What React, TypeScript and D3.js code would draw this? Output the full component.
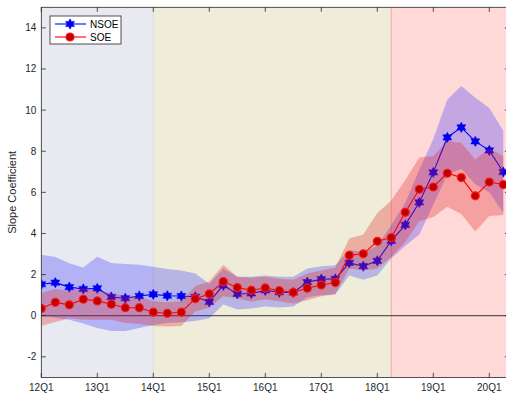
import React from 'react';
import * as d3 from 'd3';

const quarters = [
  "12Q1","12Q2","12Q3","12Q4","13Q1","13Q2","13Q3","13Q4",
  "14Q1","14Q2","14Q3","14Q4","15Q1","15Q2","15Q3","15Q4",
  "16Q1","16Q2","16Q3","16Q4","17Q1","17Q2","17Q3","17Q4",
  "18Q1","18Q2","18Q3","18Q4","19Q1","19Q2","19Q3","19Q4",
  "20Q1","20Q2",
];

const nsoe = [1.53,1.61,1.39,1.30,1.33,0.91,0.85,0.96,1.04,0.97,0.96,0.92,0.67,1.48,1.06,1.08,
  1.23,1.14,1.13,1.63,1.78,1.79,2.57,2.41,2.67,3.64,4.42,5.51,6.97,8.67,9.16,8.48,8.04,6.99];
const nsoeLo = [0.0,-0.1,-0.2,-0.38,-0.6,-0.74,-0.74,-0.6,-0.45,-0.36,-0.32,-0.26,-0.12,0.55,0.3,0.35,
  0.45,0.4,0.45,0.9,1.0,1.05,1.95,1.75,1.95,2.8,3.4,3.95,5.4,6.85,7.15,6.4,6.0,5.0];
const nsoeHi = [2.96,2.85,2.55,2.35,2.87,2.56,2.52,2.48,2.38,2.27,2.2,2.05,1.55,2.3,1.9,1.9,
  1.95,1.9,1.9,2.3,2.4,2.45,3.2,3.1,3.4,4.4,5.5,7.1,8.6,10.5,11.17,10.6,10.1,9.0];

const soe = [0.35,0.65,0.53,0.80,0.72,0.56,0.39,0.39,0.17,0.12,0.17,0.83,1.06,1.66,1.37,1.24,
  1.35,1.22,1.14,1.34,1.49,1.61,2.94,3.01,3.62,3.80,5.03,6.15,6.26,6.93,6.72,5.83,6.50,6.38];
const soeLo = [-0.5,-0.3,-0.12,-0.2,-0.2,-0.2,-0.35,-0.4,-0.5,-0.52,-0.5,0.2,0.4,0.95,0.85,0.68,
  0.8,0.7,0.6,0.75,0.95,1.05,2.3,2.2,2.3,2.85,3.6,4.6,4.8,5.3,4.95,4.1,4.85,4.9];
const soeHi = [1.1,1.3,1.2,1.35,1.2,1.1,0.95,0.9,0.7,0.65,0.7,1.45,1.67,2.48,1.9,1.85,
  1.9,1.8,1.75,2.05,2.2,2.35,3.75,3.95,5.0,5.6,6.6,7.7,7.75,8.5,8.4,7.6,8.15,7.75];

const xTickLabels = ["12Q1","13Q1","14Q1","15Q1","16Q1","17Q1","18Q1","19Q1","20Q1"];
const yTicks = [-2,0,2,4,6,8,10,12,14];

const phaseStarts = ["12Q1","14Q1","18Q2"];
const phaseColors = ["#e9e9f1","#efedda","#ffd8d8"];
const phaseEdges = ["#e9e9f1","#dcdcd8","#f2aaa0"];

const seriesNames = ["NSOE","SOE"];

const W = 506, H = 395;
const FONT = "'Liberation Sans', Arial, Helvetica, sans-serif";
const AX = "#262626";

function hexagram(r: number): string {
  const pts: string[] = [];
  const ri = r / Math.sqrt(3);
  for (let k = 0; k < 12; k++) {
    const a = -Math.PI / 2 + (k * Math.PI) / 6;
    const rr = k % 2 === 0 ? r : ri;
    pts.push(`${(rr * Math.cos(a)).toFixed(2)},${(rr * Math.sin(a)).toFixed(2)}`);
  }
  return "M" + pts.join("L") + "Z";
}

export default function App() {
  const xMaxIdx = 33.43;
  const x = d3.scaleLinear().domain([0, xMaxIdx]).range([41.3, 509.3]);
  const y = d3.scaleLinear().domain([-3, 15]).range([377.4, 7.3]);
  const [x0, x1] = x.range();
  const [yb, yt] = y.range();
  const idx = (q: string) => quarters.indexOf(q);

  const band = (lo: number[], hi: number[]) =>
    d3.area<number>().x((_, i) => x(i)).y0((_, i) => y(lo[i])).y1((_, i) => y(hi[i]))(lo) || "";
  const line = (v: number[]) => d3.line<number>().x((_, i) => x(i)).y((d) => y(d))(v) || "";

  const star = hexagram(5.2);

  const phaseBounds = phaseStarts.map((q, i) => {
    const a = x(idx(q));
    const b = i + 1 < phaseStarts.length ? x(idx(phaseStarts[i + 1])) : x1;
    return [a, b];
  });

  return (
    <svg width={W} height={H} style={{ position: "absolute", left: 0, top: 0, background: "#fff" }}
      fontFamily={FONT}>
      <defs>
        <clipPath id="plot">
          <rect x={x0} y={yt} width={x1 - x0} height={yb - yt} />
        </clipPath>
      </defs>
      <g clipPath="url(#plot)">
        {phaseBounds.map(([a, b], i) => (
          <rect key={i} x={a} y={yt} width={b - a} height={yb - yt} fill={phaseColors[i]} />
        ))}
        {phaseBounds.map(([a], i) => i > 0 ? (
          <line key={"e" + i} x1={a} x2={a} y1={yt} y2={yb} stroke={phaseEdges[i]} strokeWidth={1} />
        ) : null)}
        <line x1={x0} x2={x1} y1={y(0)} y2={y(0)} stroke="#333" strokeWidth={1} />
        {/* NSOE band */}
        <path d={band(nsoeLo, nsoeHi)} fill="#1010ff" fillOpacity={0.25} />
        {/* NSOE line */}
        <path d={line(nsoe)} fill="none" stroke="#0000ff" strokeWidth={1.1} />
        {nsoe.map((v, i) => (
          <path key={"s" + i} d={star} transform={`translate(${x(i)},${y(v)})`} fill="#0000ee" stroke="#0000ff" strokeWidth={0.5} />
        ))}
        {/* SOE band */}
        <path d={band(soeLo, soeHi)} fill="#e02020" fillOpacity={0.3} />
        <path d={line(soe)} fill="none" stroke="#ff0000" strokeWidth={1.1} />
        {soe.map((v, i) => (
          <circle key={"c" + i} cx={x(i)} cy={y(v)} r={4} fill="#c00000" stroke="#ff1a1a" strokeWidth={1.2} />
        ))}
      </g>
      {/* axes box */}
      <rect x={x0} y={yt} width={x1 - x0} height={yb - yt} fill="none" stroke={AX} strokeWidth={0.8} />
      {yTicks.map((t) => (
        <g key={"y" + t}>
          <line x1={x0} x2={x0 + 4.5} y1={y(t)} y2={y(t)} stroke={AX} strokeWidth={0.8} />
          <line x1={x1} x2={x1 - 4.5} y1={y(t)} y2={y(t)} stroke={AX} strokeWidth={0.8} />
          <text x={x0 - 5} y={y(t)} dy="0.35em" textAnchor="end" fontSize={10} fill={AX}>{t}</text>
        </g>
      ))}
      {xTickLabels.map((q) => {
        const px = x(idx(q));
        return (
          <g key={q}>
            <line x1={px} x2={px} y1={yb} y2={yb - 4.5} stroke={AX} strokeWidth={0.8} />
            <line x1={px} x2={px} y1={yt} y2={yt + 4.5} stroke={AX} strokeWidth={0.8} />
            <text x={px} y={yb + 14} textAnchor="middle" fontSize={10} fill={AX}>{q}</text>
          </g>
        );
      })}
      <text transform={`translate(16,${(yt + yb) / 2}) rotate(-90)`} textAnchor="middle" fontSize={11} fill={AX}>
        Slope Coefficient
      </text>
      {/* legend */}
      <g>
        <rect x={50} y={16} width={71} height={28} fill="#fff" stroke={AX} strokeWidth={0.8} />
        <line x1={55} x2={86} y1={24} y2={24} stroke="#3355ff" strokeWidth={1.5} />
        <path d={star} transform="translate(70,24)" fill="#0000ee" stroke="#0000ff" strokeWidth={0.5} />
        <text x={90} y={24} dy="0.35em" fontSize={10} fill="#000">{seriesNames[0]}</text>
        <line x1={55} x2={86} y1={37} y2={37} stroke="#ff4040" strokeWidth={1.5} />
        <circle cx={70} cy={37} r={4} fill="#c00000" stroke="#ff1a1a" strokeWidth={1.2} />
        <text x={90} y={37} dy="0.35em" fontSize={10} fill="#000">{seriesNames[1]}</text>
      </g>
    </svg>
  );
}
